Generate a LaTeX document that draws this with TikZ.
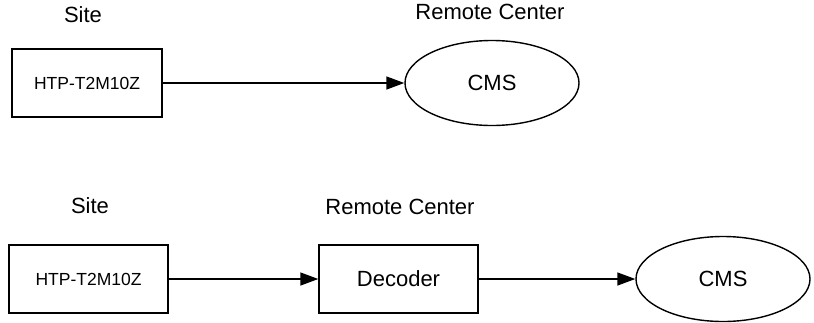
\documentclass[tikz,border=0pt]{standalone}
\usepackage{fontspec}
\setmainfont{Liberation Sans}
\usetikzlibrary{arrows.meta}
\usetikzlibrary{shapes.geometric}

\begin{document}
\begin{tikzpicture}[x=1pt,y=-1pt,line width=1.4pt,
	box/.style={rectangle,draw,minimum height=68pt,inner sep=0pt},
	center/.style={ellipse,draw,minimum width=174pt,minimum height=85pt,inner sep=0pt,font=\fontsize{22}{26}\selectfont},
	tag/.style={inner sep=0pt,font=\fontsize{22}{26}\selectfont},
	link/.style={-{Triangle[length=18pt,width=13pt]}}]
	\useasboundingbox (0,0) rectangle (814,322);

	% first setup
	\node[tag](site1) at (83,15) {Site};
	\node[tag](remote1) at (490,12) {Remote Center};
	\node[box,minimum width=150pt,font=\fontsize{17.5}{21}\selectfont](htp1) at (87,83) {HTP-T2M10Z};
	\node[center](cms1) at (492,83) {CMS};

	\draw[link] (htp1) -- (cms1);

	% second setup
	\node[tag](site2) at (90,206) {Site};
	\node[tag](remote2) at (400,207) {Remote Center};
	\node[box,minimum width=159pt,font=\fontsize{17.5}{21}\selectfont](htp2) at (88.5,279) {HTP-T2M10Z};
	\node[box,minimum width=159pt,font=\fontsize{22}{26}\selectfont](dec) at (398.5,279) {Decoder};
	\node[center](cms2) at (723,279) {CMS};

	\draw[link] (htp2) -- (dec);
	\draw[link] (dec) -- (cms2);
\end{tikzpicture}
\end{document}
